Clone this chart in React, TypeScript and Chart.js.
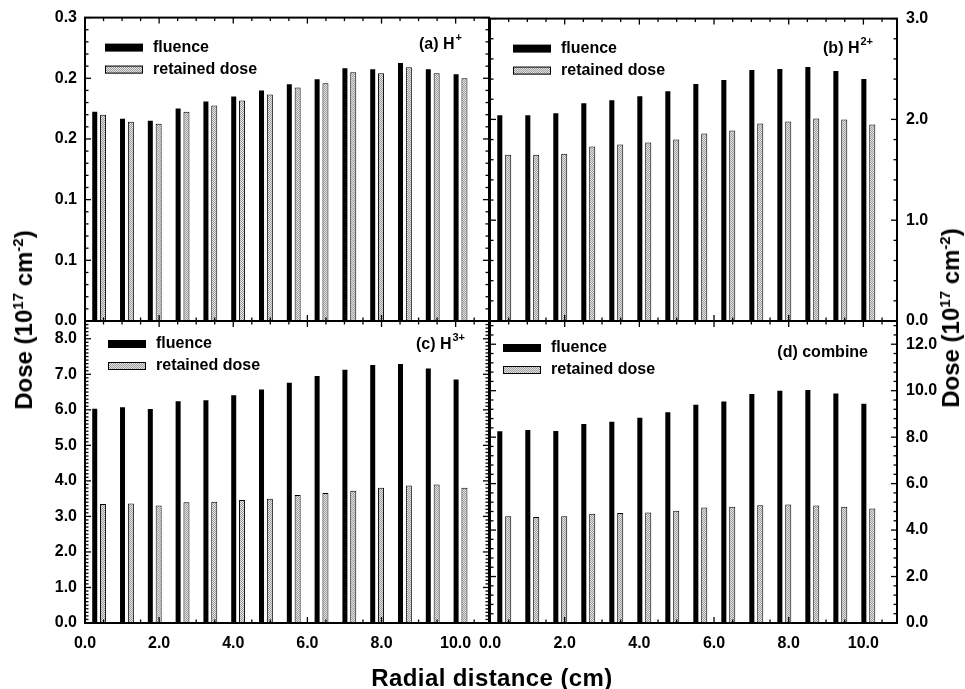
import React, { useEffect, useRef } from 'react';
import { Chart, registerables } from 'chart.js';

Chart.register(...registerables);

const FONT = '"Liberation Sans", Arial, Helvetica, sans-serif';

// Radial distance of each bar pair (cm)
const positions = [0.375, 1.125, 1.875, 2.625, 3.375, 4.125, 4.875, 5.625, 6.375, 7.125, 7.875, 8.625, 9.375, 10.125];

// (a) H+
const aFluence = [0.207, 0.2, 0.198, 0.21, 0.217, 0.222, 0.228, 0.234, 0.239, 0.25, 0.249, 0.255, 0.249, 0.244];
const aRetained = [0.204, 0.197, 0.195, 0.207, 0.213, 0.218, 0.224, 0.231, 0.235, 0.246, 0.245, 0.251, 0.245, 0.24];
// (b) H2+
const bFluence = [2.04, 2.04, 2.06, 2.16, 2.19, 2.23, 2.28, 2.35, 2.39, 2.49, 2.5, 2.52, 2.48, 2.4];
const bRetained = [1.65, 1.65, 1.66, 1.73, 1.75, 1.77, 1.8, 1.86, 1.89, 1.96, 1.98, 2.01, 2.0, 1.95];
// (c) H3+
const cFluence = [6.03, 6.07, 6.02, 6.24, 6.27, 6.41, 6.57, 6.76, 6.95, 7.13, 7.26, 7.29, 7.16, 6.85];
const cRetained = [3.35, 3.36, 3.31, 3.4, 3.41, 3.46, 3.5, 3.6, 3.66, 3.72, 3.81, 3.87, 3.9, 3.81];
// (d) combine
const dFluence = [8.25, 8.31, 8.27, 8.57, 8.66, 8.83, 9.07, 9.39, 9.54, 9.86, 10.0, 10.03, 9.88, 9.44];
const dRetained = [4.6, 4.56, 4.59, 4.7, 4.73, 4.76, 4.83, 4.97, 5.0, 5.07, 5.1, 5.06, 5.0, 4.93];

const seriesLabels = ['fluence', 'retained dose'];

const xTickValues = [0, 2, 4, 6, 8, 10];
const xTickLabels = ['0.0', '2.0', '4.0', '6.0', '8.0', '10.0'];
const aTickValues = [0, 0.06, 0.12, 0.18, 0.24, 0.3];
const aTickLabels = ['0.0', '0.1', '0.1', '0.2', '0.2', '0.3'];
const bTickValues = [0, 1, 2, 3];
const bTickLabels = ['0.0', '1.0', '2.0', '3.0'];
const cTickValues = [0, 1, 2, 3, 4, 5, 6, 7, 8];
const cTickLabels = ['0.0', '1.0', '2.0', '3.0', '4.0', '5.0', '6.0', '7.0', '8.0'];
const dTickValues = [0, 2, 4, 6, 8, 10, 12];
const dTickLabels = ['0.0', '2.0', '4.0', '6.0', '8.0', '10.0', '12.0'];

type PanelCfg = {
  fluence: number[];
  retained: number[];
  yMax: number;
  yTicks: number[];
  yLabels: string[];
  yMinor: number;
  area: [number, number, number, number];
  yPos: 'left' | 'right';
  showX: boolean;
  label: string;
  sup: string;
  legendAt: [number, number];
  labelAt: [number, number];
};

const panels: PanelCfg[] = [
  { fluence: aFluence, retained: aRetained, yMax: 0.3, yTicks: aTickValues, yLabels: aTickLabels, yMinor: 0.012,
    area: [85, 17, 489, 321], yPos: 'left', showX: false, label: '(a) H', sup: '+', legendAt: [20, 30], labelAt: [27, 27] },
  { fluence: bFluence, retained: bRetained, yMax: 3.0, yTicks: bTickValues, yLabels: bTickLabels, yMinor: 0.2,
    area: [490, 17, 897, 321], yPos: 'right', showX: false, label: '(b) H', sup: '2+', legendAt: [23, 30], labelAt: [24, 30] },
  { fluence: cFluence, retained: cRetained, yMax: 8.5, yTicks: cTickValues, yLabels: cTickLabels, yMinor: 0.1,
    area: [85, 321, 489, 623], yPos: 'left', showX: true, label: '(c) H', sup: '3+', legendAt: [23, 23], labelAt: [24, 24] },
  { fluence: dFluence, retained: dRetained, yMax: 13, yTicks: dTickValues, yLabels: dTickLabels, yMinor: 0.4,
    area: [490, 321, 897, 623], yPos: 'right', showX: true, label: '(d) combine', sup: '', legendAt: [13, 27], labelAt: [29, 32] },
];

const X_MAX = 10.9;
const X_MINOR = 0.5;

function makePattern(): CanvasPattern | string {
  const pc = document.createElement('canvas');
  pc.width = 2;
  pc.height = 2;
  const g = pc.getContext('2d');
  if (!g) return '#c0c0c0';
  g.fillStyle = '#e4e4e4';
  g.fillRect(0, 0, 2, 2);
  g.fillStyle = '#9c9c9c';
  g.fillRect(0, 0, 1, 1);
  g.fillRect(1, 1, 1, 1);
  const p = g.createPattern(pc, 'repeat');
  return p || '#c0c0c0';
}

const framePlugin = {
  id: 'frame',
  afterDatasetsDraw(chart: any, _args: any, opts: any) {
    const p: PanelCfg = opts.cfg;
    const { ctx, chartArea } = chart;
    const { left, right, top, bottom } = chartArea;
    const xs = chart.scales.x;
    const ys = chart.scales.y;
    ctx.save();
    ctx.strokeStyle = '#000';
    ctx.lineWidth = 1.3;
    const line = (x1: number, y1: number, x2: number, y2: number) => {
      ctx.beginPath();
      ctx.moveTo(x1, y1);
      ctx.lineTo(x2, y2);
      ctx.stroke();
    };
    // x ticks (bottom & top, inward)
    for (let i = 0; i * X_MINOR <= X_MAX + 1e-9; i++) {
      const v = i * X_MINOR;
      const major = xTickValues.some((t) => Math.abs(t - v) < 1e-9);
      const len = major ? 6 : 3.5;
      const px = xs.getPixelForValue(v);
      line(px, bottom, px, bottom - len);
      line(px, top, px, top + len);
    }
    // y ticks (left & right, inward)
    for (let i = 0; i * p.yMinor <= p.yMax + 1e-9; i++) {
      const v = i * p.yMinor;
      const major = p.yTicks.some((t) => Math.abs(t - v) < 1e-9);
      const len = major ? 6 : 3.5;
      const py = ys.getPixelForValue(v);
      line(left, py, left + len, py);
      line(right, py, right - len, py);
    }
    ctx.lineWidth = 2;
    ctx.strokeRect(left, top, right - left, bottom - top);

    // legend
    const ds = chart.data.datasets;
    const [lx, ly] = p.legendAt;
    for (let k = 0; k < ds.length; k++) {
      const cy = top + ly + k * 22;
      const sx = left + lx;
      ctx.fillStyle = ds[k].backgroundColor;
      ctx.fillRect(sx, cy - 4, 38, 8);
      if (k === 1) {
        ctx.lineWidth = 1;
        ctx.strokeStyle = '#000';
        ctx.strokeRect(sx + 0.5, cy - 3.5, 37, 7);
      }
      ctx.fillStyle = '#000';
      ctx.font = `bold 16px ${FONT}`;
      ctx.textAlign = 'left';
      ctx.textBaseline = 'middle';
      ctx.fillText(ds[k].label, sx + 48, cy);
    }

    // panel label
    const [rx, ry] = p.labelAt;
    ctx.font = `bold 16px ${FONT}`;
    const w1 = ctx.measureText(p.label).width;
    ctx.font = `bold 11px ${FONT}`;
    const w2 = p.sup ? ctx.measureText(p.sup).width + 1 : 0;
    const x0 = right - rx - w1 - w2;
    ctx.textAlign = 'left';
    ctx.textBaseline = 'middle';
    ctx.fillStyle = '#000';
    ctx.font = `bold 16px ${FONT}`;
    ctx.fillText(p.label, x0, top + ry);
    if (p.sup) {
      ctx.font = `bold 11px ${FONT}`;
      ctx.fillText(p.sup, x0 + w1 + 1, top + ry - 7);
    }
    ctx.restore();
  },
};

function PanelChart({ p }: { p: PanelCfg }) {
  const ref = useRef<HTMLCanvasElement>(null);
  useEffect(() => {
    const canvas = ref.current;
    if (!canvas) return;
    const [L, T, R, B] = p.area;
    const yW = 60;
    const xH = 40;
    const pattern = makePattern();
    const chart = new Chart(canvas, {
      type: 'bar',
      data: {
        datasets: [
          {
            label: seriesLabels[0],
            data: positions.map((x, i) => ({ x, y: p.fluence[i] })) as any,
            backgroundColor: '#000',
            borderWidth: 0,
            barPercentage: 0.6,
            categoryPercentage: 0.6,
          },
          {
            label: seriesLabels[1],
            data: positions.map((x, i) => ({ x, y: p.retained[i] })) as any,
            backgroundColor: pattern as any,
            borderColor: '#000',
            borderWidth: 1,
            barPercentage: 0.72,
            categoryPercentage: 0.6,
          },
        ],
      },
      options: {
        responsive: false,
        animation: false,
        events: [],
        layout: {
          padding: {
            left: p.yPos === 'left' ? L - yW : L,
            right: p.yPos === 'right' ? 965 - R - yW : 965 - R,
            top: T,
            bottom: p.showX ? 689 - B - xH : 689 - B,
          },
        },
        scales: {
          x: {
            type: 'linear',
            min: 0,
            max: X_MAX,
            display: p.showX,
            offset: false,
            grid: { display: false, drawTicks: false },
            border: { display: false },
            afterBuildTicks: (s: any) => {
              s.ticks = xTickValues.map((v) => ({ value: v }));
            },
            afterFit: (s: any) => {
              s.height = p.showX ? xH : 0;
            },
            ticks: {
              callback: (_v: any, i: number) => xTickLabels[i],
              font: { size: 16, weight: 'bold', family: FONT },
              color: '#000',
              padding: 11,
              maxRotation: 0,
              autoSkip: false,
            },
          },
          y: {
            type: 'linear',
            position: p.yPos,
            min: 0,
            max: p.yMax,
            grid: { display: false, drawTicks: false },
            border: { display: false },
            afterBuildTicks: (s: any) => {
              s.ticks = p.yTicks.map((v) => ({ value: v }));
            },
            afterFit: (s: any) => {
              s.width = yW;
            },
            ticks: {
              callback: (_v: any, i: number) => p.yLabels[i],
              font: { size: 16, weight: 'bold', family: FONT },
              color: '#000',
              padding: p.yPos === 'left' ? 8 : 9,
              autoSkip: false,
            },
          },
        } as any,
        plugins: {
          legend: { display: false },
          tooltip: { enabled: false },
          frame: { cfg: p },
        } as any,
      },
      plugins: [framePlugin as any],
    });
    return () => chart.destroy();
  }, [p]);
  return (
    <canvas
      ref={ref}
      width={965}
      height={689}
      style={{ position: 'absolute', left: 0, top: 0, width: 965, height: 689 }}
    />
  );
}

const titleStyle: React.CSSProperties = {
  position: 'absolute',
  fontFamily: FONT,
  fontWeight: 'bold',
  fontSize: 24,
  lineHeight: '24px',
  whiteSpace: 'nowrap',
  color: '#000',
};
const supStyle: React.CSSProperties = { fontSize: 15, verticalAlign: 'top', position: 'relative', top: -6 };

function DoseTitle({ cx, cy }: { cx: number; cy: number }) {
  return (
    <div style={{ ...titleStyle, left: cx, top: cy, transform: 'translate(-50%, -50%) rotate(-90deg)' }}>
      Dose (10<span style={supStyle}>17</span> cm<span style={supStyle}>-2</span>)
    </div>
  );
}

export default function App() {
  return (
    <div style={{ position: 'absolute', left: 0, top: 0, width: 965, height: 689, background: '#fff', overflow: 'hidden' }}>
      {panels.map((p, i) => (
        <PanelChart key={i} p={p} />
      ))}
      <div style={{ ...titleStyle, left: 492, top: 678, transform: 'translate(-50%, -50%)', letterSpacing: 0.4 }}>
        Radial distance (cm)
      </div>
      <DoseTitle cx={24} cy={320} />
      <DoseTitle cx={951} cy={318} />
    </div>
  );
}
